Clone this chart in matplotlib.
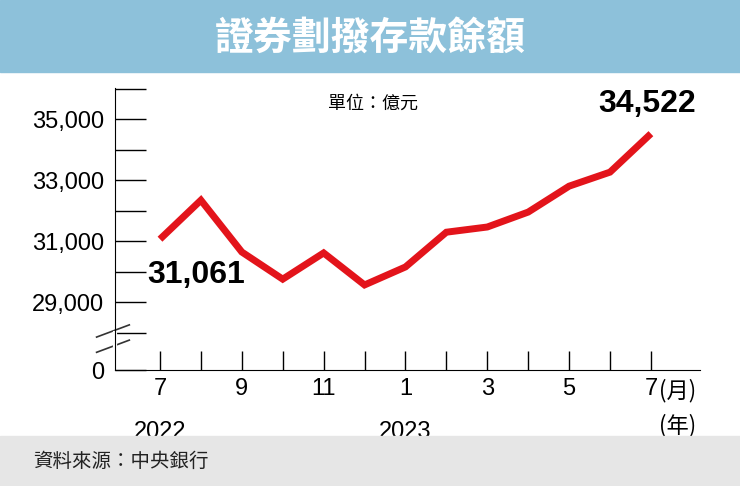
import matplotlib.pyplot as plt
import numpy as np

plt.rcParams['font.family'] = ['Liberation Sans', 'Noto Sans CJK TC']

# -- data: month index Jul 2022 .. Jul 2023 (億元)
months = ['7', '8', '9', '10', '11', '12', '1', '2', '3', '4', '5', '6', '7']
deposits = [31061, 32340, 30640, 29750, 30610, 29560, 30150, 31290, 31460, 31950, 32800, 33260, 34522]
ytick_vals = [29000, 31000, 33000, 35000]
ytick_labels = ['29,000', '31,000', '33,000', '35,000']

fig = plt.figure(figsize=(7.4, 4.86), dpi=100)

# -- title banner and footer
fig.patches.append(plt.Rectangle((0, 1 - 72/486), 1, 72/486, transform=fig.transFigure, color='#8dc1da', zorder=0))
fig.text(0.5, 1 - 38/486, '證券劃撥存款餘額', ha='center', va='center', fontsize=28, weight='heavy',
         color='white', family=['Noto Sans CJK TC'])
fig.patches.append(plt.Rectangle((0, 0), 1, 50/486, transform=fig.transFigure, color='#e6e6e6', zorder=0))
fig.text(0.045, 25/486, '資料來源：中央銀行', ha='left', va='center', fontsize=14, color='#222222',
         family=['Noto Sans CJK TC'])

ax = fig.add_axes([115/740, 1 - 370/486, 585/740, 282/486])
x = np.arange(len(deposits))
ax.plot(x, deposits, color='#e3141b', lw=5, solid_joinstyle='miter', solid_capstyle='butt')

ax.set_xlim(-1.1, 13.2)
ymin = 26770
ax.set_ylim(ymin, 36020)
ticks = [ymin] + list(range(28000, 36001, 1000))
labels = ['0'] + [ytick_labels[ytick_vals.index(t)] if t in ytick_vals else '' for t in ticks[1:]]
ax.set_yticks(ticks)
ax.set_yticklabels(labels, fontsize=17)
ax.tick_params(axis='y', length=22, direction='in', width=1, pad=8)
ax.set_xticks(x)
ax.set_xticklabels([m if i % 2 == 0 else '' for i, m in enumerate(months)], fontsize=17)
ax.tick_params(axis='x', length=14, direction='in', width=1, pad=6)
for s in ['top', 'right']:
    ax.spines[s].set_visible(False)

# -- axis break marks
for yb in [27550, 28050]:
    ax.plot([-1.55, -0.75], [yb - 200, yb + 200], color='#333333', lw=1.2, clip_on=False)
ax.plot([-1.1, -1.1], [27600, 28000], color='white', lw=3, clip_on=False)

ax.text(0.0, -0.24, '2022', transform=ax.get_xaxis_transform(), ha='center', fontsize=17)
ax.text(6, -0.24, '2023', transform=ax.get_xaxis_transform(), ha='center', fontsize=17)
ax.text(12.2, -0.03, '(月)', transform=ax.get_xaxis_transform(), ha='left', va='top', fontsize=16,
        family=['Noto Sans CJK TC'])
ax.text(12.2, -0.24, '(年)', transform=ax.get_xaxis_transform(), ha='left', va='bottom', fontsize=16,
        family=['Noto Sans CJK TC'])

ax.text(-0.3, 29900, '31,061', ha='left', va='center', fontsize=23, weight='bold')
ax.text(11.9, 35500, '34,522', ha='center', va='center', fontsize=23, weight='bold')
ax.text(5.2, 35500, '單位：億元', ha='center', va='center', fontsize=13, family=['Noto Sans CJK TC'])

fig.savefig('out.png', dpi=100)
